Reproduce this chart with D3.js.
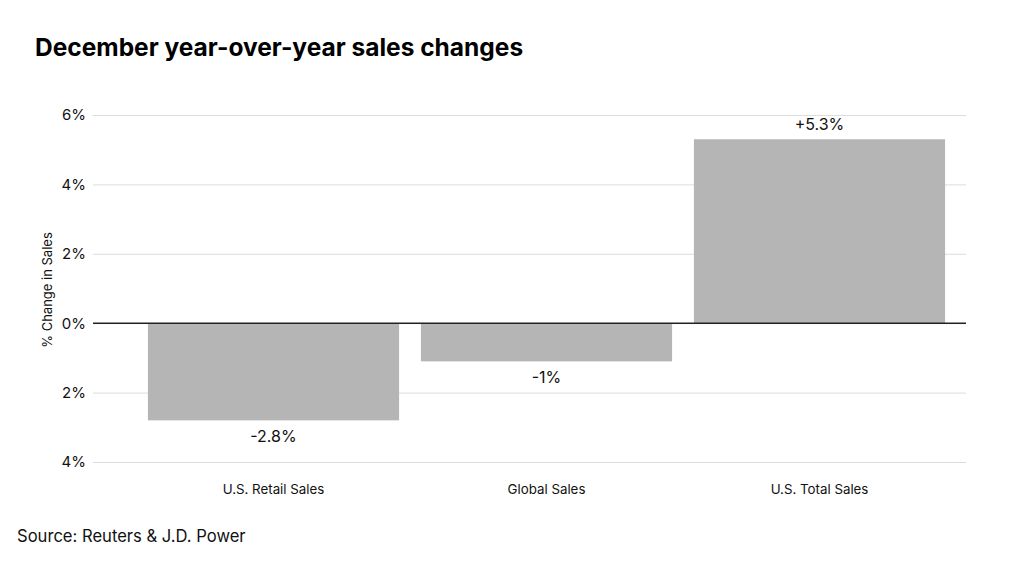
<!DOCTYPE html>
<html>
<head>
<meta charset="utf-8">
<script src="https://cdn.jsdelivr.net/npm/d3@7"></script>
<style>
  body { margin: 0; background: #fff; }
  svg { display: block; font-family: Inter, "Noto Sans", sans-serif; }
</style>
</head>
<body>
<svg id="chart" width="1024" height="565"></svg>
<script>
const categories = ["U.S. Retail Sales", "Global Sales", "U.S. Total Sales"];
const values = [-2.8, -1.1, 5.3];
const valueLabels = ["-2.8%", "-1%", "+5.3%"];
const yTicks = [-4, -2, 0, 2, 4, 6];

const svg = d3.select("#chart");
const y = d3.scaleLinear().domain([-4, 6]).range([462, 115]);
const x = d3.scaleBand().domain(categories).range([137, 956]).paddingInner(0.08).paddingOuter(0.04);
const gridLeft = 93, gridRight = 966;

// title
svg.append("text").attr("x", 35).attr("y", 56)
  .attr("font-size", 24.5).attr("font-weight", 700).attr("fill", "#000")
  .text("December year-over-year sales changes");

// gridlines
const yAxis = d3.axisLeft(y).tickValues(yTicks)
  .tickSize(-(gridRight - gridLeft))
  .tickFormat(d => Math.abs(d) + "%");
const ga = svg.append("g").attr("transform", `translate(${gridLeft},0)`).call(yAxis);
ga.select(".domain").remove();
ga.selectAll(".tick line").attr("stroke", "#dddddd").attr("stroke-width", 1);
ga.selectAll(".tick text").attr("x", -7).attr("font-size", 15).attr("fill", "#111")
  .attr("font-family", "Inter, sans-serif");

// bars
svg.append("g").selectAll("rect").data(values).join("rect")
  .attr("x", (d, i) => x(categories[i]))
  .attr("width", x.bandwidth())
  .attr("y", d => y(Math.max(0, d)))
  .attr("height", d => Math.abs(y(d) - y(0)))
  .attr("fill", "#b5b5b5");

// zero line
svg.append("line").attr("x1", gridLeft).attr("x2", gridRight)
  .attr("y1", y(0)).attr("y2", y(0)).attr("stroke", "#222").attr("stroke-width", 1.5);

// value labels
svg.append("g").selectAll("text").data(values).join("text")
  .attr("x", (d, i) => x(categories[i]) + x.bandwidth() / 2)
  .attr("y", d => d >= 0 ? y(d) - 9 : y(d) + 22)
  .attr("text-anchor", "middle").attr("font-size", 16).attr("fill", "#111")
  .text((d, i) => valueLabels[i]);

// category labels
const xAxis = d3.axisBottom(x).tickSize(0);
const gx = svg.append("g").attr("transform", `translate(0,${y(-4)})`).call(xAxis);
gx.select(".domain").remove();
gx.selectAll(".tick text").attr("dy", 0).attr("y", 32).attr("font-size", 13.3).attr("fill", "#111")
  .attr("font-family", "Inter, sans-serif");

// y label
svg.append("text").attr("transform", "translate(52,290) rotate(-90)")
  .attr("text-anchor", "middle").attr("font-size", 13).attr("fill", "#111")
  .text("% Change in Sales");

// source
svg.append("text").attr("x", 17).attr("y", 542)
  .attr("font-size", 16.6).attr("fill", "#111")
  .text("Source: Reuters & J.D. Power");
</script>
</body>
</html>
